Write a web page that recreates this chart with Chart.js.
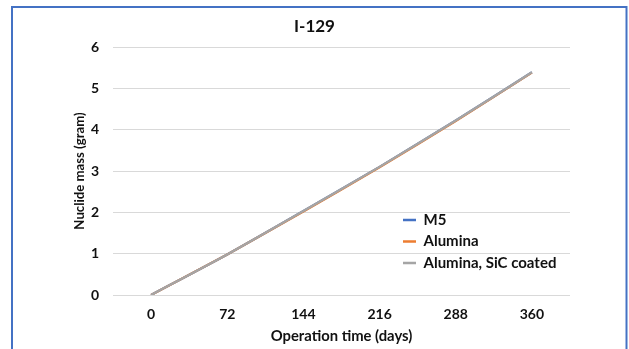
<!DOCTYPE html>
<html>
<head>
<meta charset="utf-8">
<script src="https://cdn.jsdelivr.net/npm/chart.js@4.4.1/dist/chart.umd.min.js"></script>
<style>
  html, body { margin: 0; padding: 0; background: #fff; }
  #wrap { position: relative; width: 629px; height: 349px; }
</style>
</head>
<body>
<div id="wrap"><canvas id="c" width="629" height="349"></canvas></div>
<script>
const categories = ['0', '72', '144', '216', '288', '360'];
const seriesNames = ['M5', 'Alumina', 'Alumina, SiC coated'];
const m5Values = [0, 0.98, 2.03, 3.10, 4.22, 5.39];
const aluminaValues = [0, 0.98, 2.02, 3.09, 4.21, 5.38];
const sicValues = [0, 0.98, 2.03, 3.10, 4.22, 5.39];
const seriesColors = ['#4472C4', '#ED7D31', '#A5A5A5'];
const yTicks = [0, 1, 2, 3, 4, 5, 6];
const chartTitle = 'I-129';
const xTitle = 'Operation time (days)';
const yTitle = 'Nuclide mass (gram)';

const FONT = 'Lato, "Liberation Sans", sans-serif';
const TEXT = '#111111';

const frame = {
  id: 'frame',
  beforeDraw(chart) {
    const ctx = chart.ctx;
    ctx.save();
    ctx.fillStyle = '#ffffff';
    ctx.fillRect(0, 0, chart.width, chart.height);
    ctx.strokeStyle = '#4472C4';
    ctx.lineWidth = 2;
    ctx.strokeRect(12, 7, 614.5, 400);
    ctx.restore();
  }
};

const legendMover = {
  id: 'legendMover',
  afterLayout(chart) {
    const lg = chart.legend;
    if (!lg) return;
    const w = lg.width, h = lg.height;
    lg.left = 396.5; lg.top = 206;
    lg.right = lg.left + w; lg.bottom = lg.top + h;
  }
};

new Chart(document.getElementById('c'), {
  type: 'line',
  data: {
    labels: categories,
    datasets: [
      { label: seriesNames[0], data: m5Values, borderColor: seriesColors[0], backgroundColor: seriesColors[0], order: 2 },
      { label: seriesNames[1], data: aluminaValues, borderColor: seriesColors[1], backgroundColor: seriesColors[1], order: 1 },
      { label: seriesNames[2], data: sicValues, borderColor: seriesColors[2], backgroundColor: seriesColors[2], order: 0 }
    ]
  },
  options: {
    responsive: false,
    animation: false,
    devicePixelRatio: 1,
    layout: { padding: { left: 0, right: 0, top: 8, bottom: 0 } },
    elements: {
      line: { borderWidth: 2.25, tension: 0.2, fill: false },
      point: { radius: 0, hoverRadius: 0 }
    },
    plugins: {
      title: {
        display: true,
        text: chartTitle,
        color: TEXT,
        font: { family: FONT, size: 17, weight: 'bold' },
        padding: { top: 8.4, bottom: 10.2 }
      },
      legend: {
        position: 'chartArea',
        align: 'start',
        labels: {
          usePointStyle: true,
          pointStyle: 'line',
          pointStyleWidth: 13,
          padding: 6.5,
          color: TEXT,
          font: { family: FONT, size: 15, weight: 'bold' },
          generateLabels(chart) {
            return chart.data.datasets.map((ds, i) => ({
              text: ds.label,
              fillStyle: seriesColors[i],
              strokeStyle: seriesColors[i],
              fontColor: TEXT,
              lineWidth: 2.5,
              lineCap: 'butt',
              pointStyle: 'line',
              hidden: false,
              datasetIndex: i
            }));
          }
        }
      },
      tooltip: { enabled: false }
    },
    scales: {
      x: {
        type: 'category',
        offset: true,
        afterFit(s) { s.height = 54; },
        grid: { display: false, drawTicks: false },
        border: { display: false },
        ticks: { color: TEXT, padding: 11.5, maxRotation: 0, font: { family: FONT, size: 14, weight: 'bold' } },
        title: {
          display: true, text: xTitle, color: TEXT,
          font: { family: FONT, size: 14.8, weight: 'bold' },
          padding: { top: 0, bottom: 3.5 }
        }
      },
      y: {
        min: yTicks[0],
        max: yTicks[yTicks.length - 1],
        afterFit(s) { s.width = 113; },
        afterBuildTicks(s) { s.ticks = yTicks.map(v => ({ value: v })); },
        grid: { color: '#D9D9D9', lineWidth: 1, drawTicks: false },
        border: { display: false },
        ticks: { color: TEXT, padding: 14, font: { family: FONT, size: 14, weight: 'bold' } },
        title: {
          display: true, text: yTitle, color: TEXT,
          font: { family: FONT, size: 13.2, weight: 'bold' },
          padding: { top: 72, bottom: 0 }
        }
      },
      yR: {
        position: 'right',
        display: true,
        afterFit(s) { s.width = 59; },
        grid: { display: false, drawTicks: false },
        border: { display: false },
        ticks: { display: false }
      }
    }
  },
  plugins: [frame, legendMover]
});
</script>
</body>
</html>
